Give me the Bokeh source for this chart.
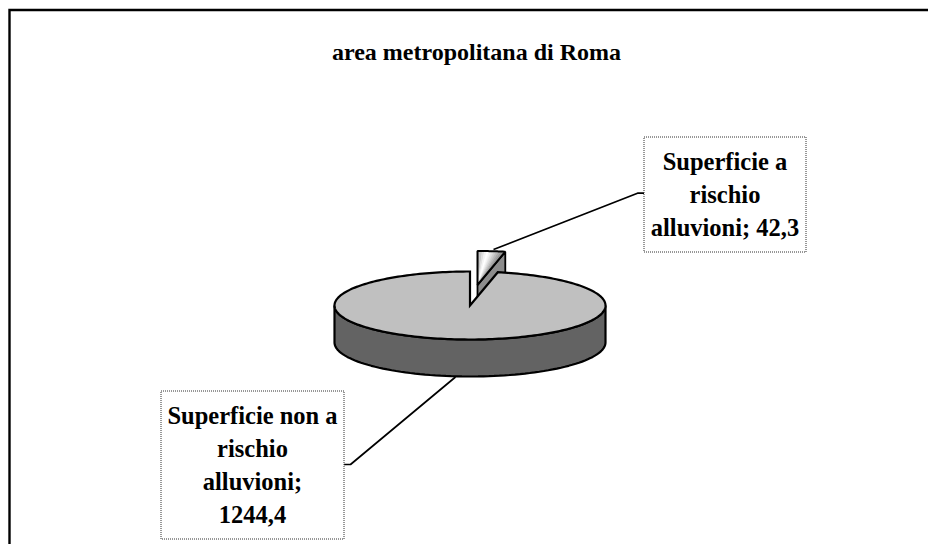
import numpy as np
from bokeh.plotting import figure
from bokeh.models import Range1d
from bokeh.core.properties import value
from bokeh.embed import file_html
from bokeh.resources import INLINE

title = "area metropolitana di Roma"
categories = ["Superficie a rischio alluvioni", "Superficie non a rischio alluvioni"]
values = [42.3, 1244.4]
label_lines = [["Superficie a", "rischio", "alluvioni; 42,3"],
               ["Superficie non a", "rischio", "alluvioni;", "1244,4"]]

F = value("Liberation Serif")
p = figure(width=928, height=544, output_backend="svg", toolbar_location=None,
           x_range=Range1d(0, 928), y_range=Range1d(544, 0),
           min_border=0, outline_line_color=None, background_fill_color="white",
           border_fill_color="white")
p.axis.visible = False
p.grid.visible = False

cx, cy, rx, ry, depth = 469.5, 305.0, 135.5, 34.0, 37.0
dx, dy = 7.5, -20.5
frac = values[0] / sum(values)
sweep = 2 * np.pi * frac


def pt(t):
    # t measured clockwise from 12 o'clock in the plane of the pie
    return rx * np.sin(t), -ry * np.cos(t)


# exploded slice, drawn first so the main pie covers it
a_x, a_y = cx + dx, cy + dy
t_s = np.linspace(0, sweep, 25)
sx, sy = pt(t_s)
sx, sy = a_x + sx, a_y + sy
p.patch([a_x, sx[-1], sx[-1], a_x], [a_y, sy[-1], sy[-1] + depth, a_y + depth],
        fill_color="#8c8c8c", line_color="black", line_width=1.8)
shades = ["#b4b4b4", "#c8c8c8", "#e0e0e0", "#f4f4f4", "#ffffff", "#f4f4f4", "#e2e2e2",
          "#cfcfcf", "#bcbcbc", "#a8a8a8", "#969696", "#8a8a8a"]
edges = np.linspace(0, sweep, len(shades) + 1)
for i, c in enumerate(shades):
    tt = np.linspace(edges[i], edges[i + 1], 5)
    fx, fy = pt(tt)
    p.patch(np.r_[a_x, a_x + fx], np.r_[a_y, a_y + fy], fill_color=c, line_color=c, line_width=0.3)
p.patch(np.r_[a_x, sx], np.r_[a_y, sy], fill_color=None, line_color="black", line_width=2)

# main pie: wall then top
t_w = np.linspace(np.pi / 2, 3 * np.pi / 2, 80)
wx, wy = pt(t_w)
p.patch(np.r_[cx + wx, (cx + wx)[::-1]], np.r_[cy + wy, (cy + wy + depth)[::-1]],
        fill_color="#636363", line_color="black", line_width=2.2)
t_m = np.linspace(sweep, 2 * np.pi, 240)
mx, my = pt(t_m)
p.patch(np.r_[cx, cx + mx], np.r_[cy, cy + my], fill_color="#c0c0c0", line_color="black",
        line_width=2.2, line_join="miter")

# leader lines
p.line([493, 637, 643.5], [249, 192.7, 192.7], line_color="black", line_width=1.7)
p.line([343.5, 350, 455], [464, 464, 376.5], line_color="black", line_width=1.7)

# label boxes
boxes = [(643.5, 805.5, 136.5, 251.5), (160.5, 343.5, 390.5, 538.5)]
for (x0, x1, y0, y1), lines in zip(boxes, label_lines):
    p.patch([x0, x1, x1, x0], [y0, y0, y1, y1], fill_color="white", line_color="#303030",
            line_width=1, line_dash="1 1")
    mid = (x0 + x1) / 2
    yc = (y0 + y1) / 2
    n = len(lines)
    ys = [yc + (i - (n - 1) / 2) * 32.7 for i in range(n)]
    p.text([mid] * n, ys, text=lines, text_font=F, text_font_style="bold", text_font_size="24.5px",
           text_align="center", text_baseline="middle", text_color="black")

p.text([476], [51], text=[title], text_font=F, text_font_style="bold", text_font_size="24px",
       text_align="center", text_baseline="middle", text_color="black")

# frame: only top and left edges fall within the picture
p.line([9, 9, 928], [544, 9.5, 9.5], line_color="black", line_width=2.4, line_join="miter")

open("out.html", "w").write(file_html(p, INLINE))
